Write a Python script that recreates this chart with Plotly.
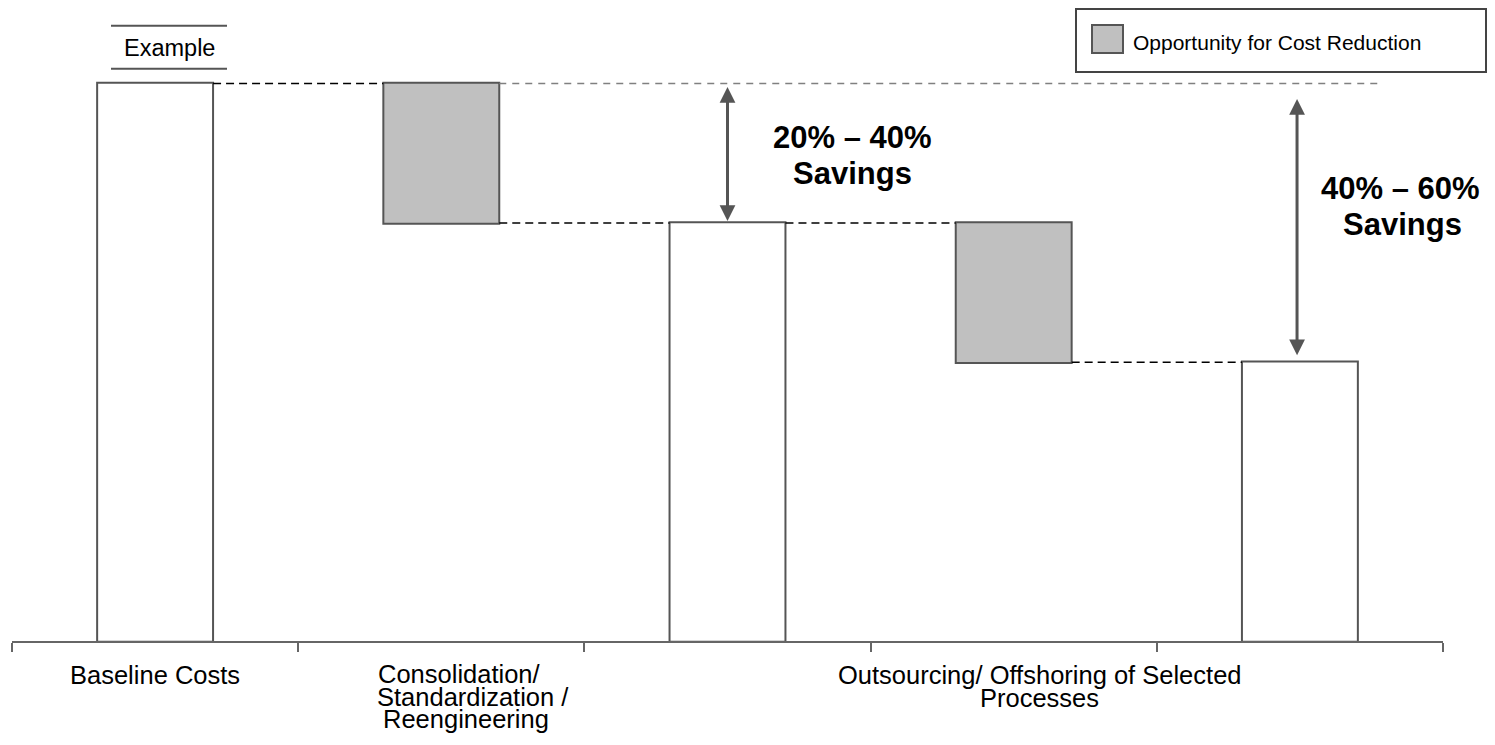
import plotly.graph_objects as go

# ---------------- data ----------------
STAGES = ["Baseline Costs", "Consolidation", "After Consolidation",
          "Outsourcing", "After Outsourcing"]
MEASURES = ["absolute", "relative", "total", "relative", "total"]
AMOUNTS = [100, -25, 0, -25, 0]

BASELINE_LABEL = ["Baseline Costs"]
CONSOLIDATION_LABEL = ["Consolidation/", "Standardization /", "Reengineering"]
OUTSOURCING_LABEL = ["Outsourcing/ Offshoring of Selected", "Processes"]
SAVINGS_RANGES = ["20% \u2013 40%", "40% \u2013 60%"]
SAVINGS_WORD = "Savings"
LEGEND_LABEL = "Opportunity for Cost Reduction"
TAG = "Example"

# ---------------- layout constants ----------------
W, H = 1495, 745
ML, MR, MT, MB = 12, 52, 0, 104
PW, PH = W - ML - MR, H - MT - MB
BAR_W = 0.405
FONT = "Liberation Sans, Arial, Helvetica, sans-serif"
EDGE = "#555555"
GRAY = "#c0c0c0"
AXIS = "#666666"


def px(x):
    """pixel column -> paper x"""
    return (x - ML) / PW


def py(y):
    """pixel row -> paper y"""
    return (MT + PH - y) / PH


# running levels of the cost bars
level0 = AMOUNTS[0]
level1 = level0 + AMOUNTS[1]
level2 = level1 + AMOUNTS[3]

fig = go.Figure()

fig.add_trace(go.Waterfall(
    x=STAGES, y=AMOUNTS, measure=MEASURES, width=BAR_W,
    increasing=dict(marker=dict(color="white", line=dict(color=EDGE, width=2))),
    decreasing=dict(marker=dict(color=GRAY, line=dict(color=EDGE, width=2))),
    totals=dict(marker=dict(color="white", line=dict(color=EDGE, width=2))),
    connector=dict(mode="between",
                   line=dict(color="black", width=1.5, dash="8px,5px")),
    hoverinfo="skip", showlegend=False,
))

shapes = []
# reference line at baseline level across the chart
shapes.append(dict(type="line", xref="x", yref="y",
                   x0=1 + BAR_W / 2, x1=4.28, y0=level0, y1=level0,
                   line=dict(color="#808080", width=1.5, dash="7px,6px")))
# "Example" tag rules
for yy in (25.7, 68.7):
    shapes.append(dict(type="line", xref="paper", yref="paper",
                       x0=px(111), x1=px(227), y0=py(yy), y1=py(yy),
                       line=dict(color=EDGE, width=2)))
# legend frame and swatch
shapes.append(dict(type="rect", xref="paper", yref="paper",
                   x0=px(1076), x1=px(1486), y0=py(72), y1=py(9),
                   line=dict(color="#444444", width=2), fillcolor="white"))
shapes.append(dict(type="rect", xref="paper", yref="paper",
                   x0=px(1092), x1=px(1123), y0=py(53), y1=py(25),
                   line=dict(color=EDGE, width=2), fillcolor=GRAY))

annotations = []


def text(t, x, y, size, bold=False, xanchor="center"):
    annotations.append(dict(
        text=f"<b>{t}</b>" if bold else t,
        xref="paper", yref="paper", x=px(x), y=py(y),
        xanchor=xanchor, yanchor="middle", showarrow=False,
        font=dict(family=FONT, size=size, color="black")))


# category labels under the axis
text(BASELINE_LABEL[0], 155, 674.5, 25.5)
for line, cx, cy in zip(CONSOLIDATION_LABEL, (459, 473, 466), (674, 696.5, 719)):
    text(line, cx, cy, 25.5)
for line, cy in zip(OUTSOURCING_LABEL, (674.5, 697.5)):
    text(line, 1039.5, cy, 25.5)

# savings callouts
text(SAVINGS_RANGES[0], 852.5, 137.5, 31, bold=True)
text(SAVINGS_WORD, 852.5, 174, 31, bold=True)
text(SAVINGS_RANGES[1], 1400.5, 188.5, 31, bold=True)
text(SAVINGS_WORD, 1402, 224, 31, bold=True)

# tag and legend text
text(TAG, 169, 47.5, 23.5)
text(LEGEND_LABEL, 1131, 42.5, 21, xanchor="left")

# double-headed savings arrows
for xc, top, bottom, so_bottom, so_top in ((2, level0, level1, 2, 2),
                                            (3.99, level0, level2, 7, 14)):
    annotations.append(dict(
        text="", xref="x", yref="y", axref="x", ayref="y",
        x=xc, y=bottom, ax=xc, ay=top,
        showarrow=True, arrowside="end+start",
        arrowhead=2, startarrowhead=2, arrowsize=1.05, startarrowsize=1.05,
        arrowwidth=3, arrowcolor=EDGE,
        standoff=so_bottom, startstandoff=so_top,
        font=dict(size=1)))

fig.update_layout(
    width=W, height=H,
    margin=dict(l=ML, r=MR, t=MT, b=MB, autoexpand=False),
    paper_bgcolor="white", plot_bgcolor="white",
    font=dict(family=FONT, color="black"),
    shapes=shapes, annotations=annotations,
    showlegend=False,
    xaxis=dict(type="category", range=[-0.5, 4.5], tickson="boundaries",
               ticks="outside", ticklen=9, tickwidth=2, tickcolor=AXIS,
               showline=True, linecolor=AXIS, linewidth=2,
               showticklabels=False, showgrid=False, zeroline=False,
               automargin=False, fixedrange=True),
    yaxis=dict(range=[0, 115], visible=False, fixedrange=True),
)

fig.write_html("out.html", config={"displayModeBar": False})
